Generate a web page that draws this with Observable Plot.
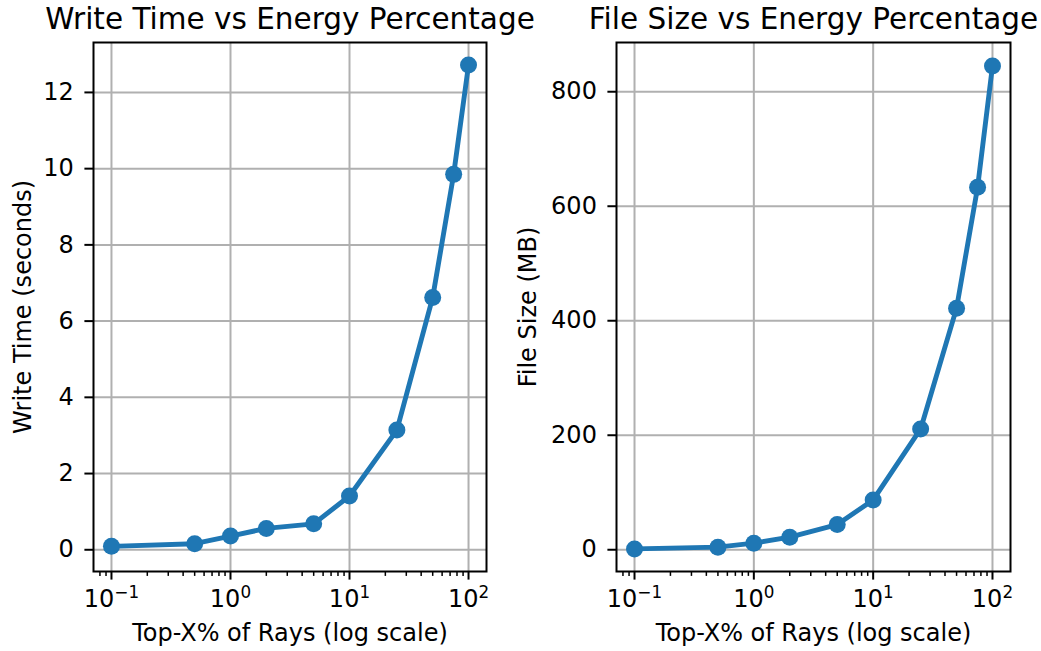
<!DOCTYPE html>
<html>
<head>
<meta charset="utf-8">
<script src="https://cdn.jsdelivr.net/npm/d3@7"></script>
<script src="https://cdn.jsdelivr.net/npm/@observablehq/plot@0.6"></script>
<style>
  html, body { margin: 0; padding: 0; background: white; }
  #wrap { display: flex; width: 1041px; height: 651px; }
</style>
</head>
<body>
<div id="wrap"></div>
<script>
const pct = [0.1, 0.5, 1, 2, 5, 10, 25, 50, 75, 100];
const writeTime = [0.09, 0.16, 0.36, 0.56, 0.68, 1.41, 3.14, 6.62, 9.85, 12.72];
const fileSize = [1.5, 4.5, 11.5, 22, 44, 87, 211, 422, 633, 845];
const xMajor = [0.1, 1, 10, 100];
const xMajorBase = "10";
const xMajorExp = ["−1", "0", "1", "2"];
const xMinor = [0.08, 0.09, 0.2, 0.3, 0.4, 0.5, 0.6, 0.7, 0.8, 0.9, 2, 3, 4, 5, 6, 7, 8, 9, 20, 30, 40, 50, 60, 70, 80, 90];
const yTicksLeft = [0, 2, 4, 6, 8, 10, 12];
const yTicksRight = [0, 200, 400, 600, 800];
const titles = ["Write Time vs Energy Percentage", "File Size vs Energy Percentage"];
const yLabels = ["Write Time (seconds)", "File Size (MB)"];
const xLabel = "Top-X% of Rays (log scale)";

const blue = "#1f77b4";
const grid = "#b0b0b0";

function tickLabelMarks(ticks, dx) {
  return [
    Plot.text(ticks, {x: d => d, frameAnchor: "bottom", text: () => xMajorBase, textAnchor: "end", dx, dy: 28, fontSize: 24, lineAnchor: "middle"}),
    Plot.text(ticks, {x: d => d, frameAnchor: "bottom", text: d => xMajorExp[xMajor.indexOf(d)], textAnchor: "start", dx, dy: 21.6, fontSize: 16.8, lineAnchor: "middle"})
  ];
}

function panel({values, yDomain, yTicks, title, yLabel, width, marginLeft, marginRight, yLabelDx}) {
  const data = pct.map((p, i) => ({p, v: values[i]}));
  return Plot.plot({
    width, height: 651,
    marginTop: 42, marginBottom: 80, marginLeft, marginRight,
    style: {fontFamily: "DejaVu Sans", fontSize: "24px", color: "black", background: "transparent", overflow: "visible"},
    x: {type: "log", domain: [Math.pow(10, -1.151), Math.pow(10, 2.151)]},
    y: {domain: yDomain},
    marks: [
      Plot.gridX(xMajor, {stroke: grid, strokeOpacity: 1, strokeWidth: 2}),
      Plot.gridY(yTicks, {stroke: grid, strokeOpacity: 1, strokeWidth: 2}),
      Plot.line(data, {x: "p", y: "v", stroke: blue, strokeWidth: 4.9}),
      Plot.dot(data, {x: "p", y: "v", r: 8.5, fill: blue, stroke: "none"}),
      Plot.axisX(xMinor, {tickSize: 4.9, strokeWidth: 1.5, tickFormat: () => "", label: null}),
      Plot.axisX(xMajor, {tickSize: 8.6, strokeWidth: 2, tickFormat: () => "", label: null}),
      ...tickLabelMarks(xMajor.filter(d => d < 1), 2.85),
      ...tickLabelMarks(xMajor.filter(d => d >= 1), 9.9),
      Plot.axisY(yTicks, {tickSize: 8.6, tickPadding: 11, strokeWidth: 2, tickFormat: d => String(d), label: null}),
      Plot.frame({stroke: "black", strokeWidth: 2}),
      Plot.text([title], {frameAnchor: "top", dy: -23, fontSize: 29.5, textAnchor: "middle", lineAnchor: "middle"}),
      Plot.text([xLabel], {frameAnchor: "bottom", dy: 62, fontSize: 24, textAnchor: "middle", lineAnchor: "middle"}),
      Plot.text([yLabel], {frameAnchor: "left", dx: yLabelDx, rotate: -90, fontSize: 24, textAnchor: "middle", lineAnchor: "middle"})
    ]
  });
}

const wrap = document.getElementById("wrap");
wrap.appendChild(panel({values: writeTime, yDomain: [-0.57, 13.31], yTicks: yTicksLeft, title: titles[0], yLabel: yLabels[0], width: 520, marginLeft: 93, marginRight: 34, yLabelDx: -70}));
wrap.appendChild(panel({values: fileSize, yDomain: [-38, 886], yTicks: yTicksRight, title: titles[1], yLabel: yLabels[1], width: 521, marginLeft: 96, marginRight: 31, yLabelDx: -88}));
</script>
</body>
</html>
